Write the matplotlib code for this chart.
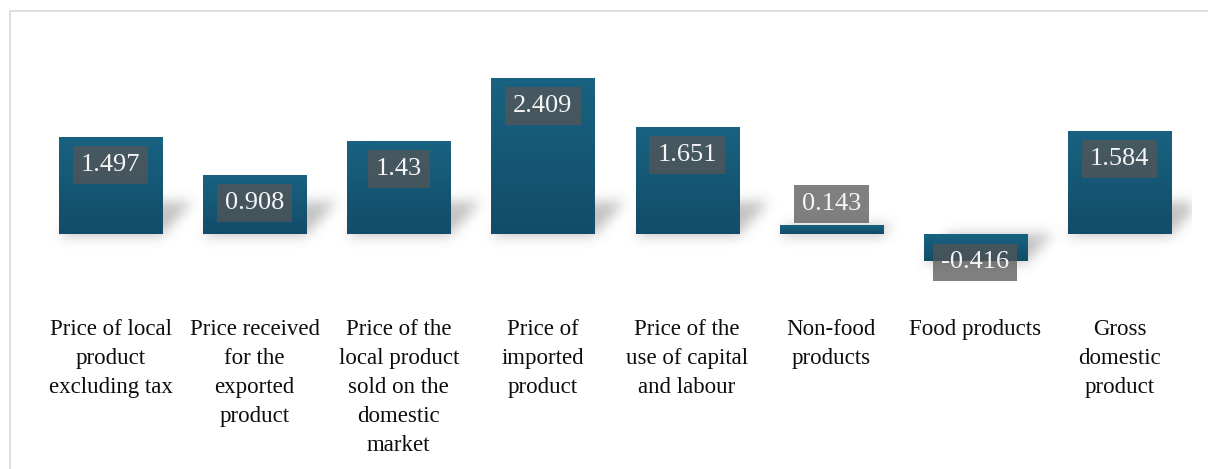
import matplotlib
matplotlib.use("Agg")
import matplotlib.pyplot as plt
import numpy as np
from matplotlib.patches import Rectangle
from matplotlib.colors import LinearSegmentedColormap

categories = [
    "Price of local\nproduct\nexcluding tax",
    "Price received\nfor the\nexported\nproduct",
    "Price of the\nlocal product\nsold on the\ndomestic\nmarket",
    "Price of\nimported\nproduct",
    "Price of the\nuse of capital\nand labour",
    "Non-food\nproducts",
    "Food products",
    "Gross\ndomestic\nproduct",
]
values = [1.497, 0.908, 1.43, 2.409, 1.651, 0.143, -0.416, 1.584]
value_labels = ["1.497", "0.908", "1.43", "2.409", "1.651", "0.143", "-0.416", "1.584"]

W, H, DPI = 1208, 469, 100
plt.rcParams["font.family"] = ["Liberation Serif", "DejaVu Serif"]

fig = plt.figure(figsize=(W / DPI, H / DPI), dpi=DPI)
fig.patch.set_facecolor("white")

# axes placed in pixel terms
ax_l, ax_r = 38.5, 1191.5
ax_t, ax_b = 39.6, 298.8
ax = fig.add_axes([ax_l / W, 1 - ax_b / H, (ax_r - ax_l) / W, (ax_b - ax_t) / H])
ymin, ymax = -1.0, 3.0
ax.set_xlim(-0.5, len(values) - 0.5)
ax.set_ylim(ymin, ymax)
for s in ax.spines.values():
    s.set_visible(False)
ax.set_yticks([])
ax.set_xticks(range(len(categories)))
ax.set_xticklabels(categories, fontsize=16.5, linespacing=1.5, color="#0d0d0d",
                   va="top", ha="center")
ax.tick_params(axis="x", length=0, pad=14.5)

# outer frame (top/left edges visible)
fig.patches.append(Rectangle((10 / W, -0.1), 1.2, 1 - 11 / H + 0.1,
                             transform=fig.transFigure, fill=False,
                             edgecolor="#d9d9d9", linewidth=1.2, clip_on=False))

bar_w = 0.715
px_per_x = (ax_r - ax_l) / len(values)
px_per_y = (ax_b - ax_t) / (ymax - ymin)

# soft shadows behind the bars, built as a blurred alpha mask in pixel space
nx, ny = int(ax_r - ax_l), int(ax_b - ax_t)
mask = np.zeros((ny, nx))
for i, v in enumerate(values):
    x0 = (i - bar_w / 2 + 0.5) * px_per_x
    x1 = (i + bar_w / 2 + 0.5) * px_per_x
    base_row = (ymax - min(v, 0)) * px_per_y
    top_row = (ymax - max(v, 0)) * px_per_y
    depth = min(base_row - top_row, 32)
    for r in range(int(base_row - depth), int(base_row)):
        shift = (base_row - r) * 30 / 32
        c0, c1 = int(x0 + shift), int(x1 + shift)
        mask[r, max(c0, 0):min(c1, nx)] = 1.0
    mask[int(base_row):int(base_row) + 4, int(x0):int(x1)] = 0.5


def blur(a, sigma):
    k = np.arange(-3 * sigma, 3 * sigma + 1)
    k = np.exp(-k ** 2 / (2 * sigma ** 2))
    k /= k.sum()
    a = np.apply_along_axis(lambda m: np.convolve(m, k, mode="same"), 0, a)
    a = np.apply_along_axis(lambda m: np.convolve(m, k, mode="same"), 1, a)
    return a


mask = blur(mask, 6)
shadow = np.zeros((ny, nx, 4))
shadow[..., :3] = 0.4
shadow[..., 3] = mask * 0.4
ax.imshow(shadow, extent=(-0.5, len(values) - 0.5, ymin, ymax), aspect="auto",
          zorder=1, interpolation="bilinear")

# bars with a vertical gradient fill
grad = LinearSegmentedColormap.from_list("bar", ["#134c69", "#186282"])
bars = ax.bar(range(len(values)), values, width=bar_w, color="none", zorder=2)
for b in bars:
    x, y = b.get_x(), b.get_y()
    w, h = b.get_width(), b.get_height()
    lo, hi = min(y, y + h), max(y, y + h)
    img = ax.imshow(np.linspace(0, 1, 64).reshape(-1, 1), cmap=grad,
                    extent=(x, x + w, lo, hi), origin="lower",
                    aspect="auto", zorder=2)
    img.set_clip_path(b)

# value labels: inside the top of tall bars, above short ones
for i, (v, lab) in enumerate(zip(values, value_labels)):
    if v > 0.6:
        off = -28
    elif v > 0:
        off = 20.5
    else:
        off = -1.5
    ax.annotate(lab, xy=(i, v), xytext=(0, off * 72 / DPI), textcoords="offset points",
                ha="center", va="center", fontsize=19, color="#f5f5f5", zorder=4,
                bbox=dict(boxstyle="square,pad=0.3", facecolor="#555555",
                          edgecolor="none", alpha=0.75))

ax.set_xlim(-0.5, len(values) - 0.5)
ax.set_ylim(ymin, ymax)
fig.savefig("out.png", dpi=DPI)
